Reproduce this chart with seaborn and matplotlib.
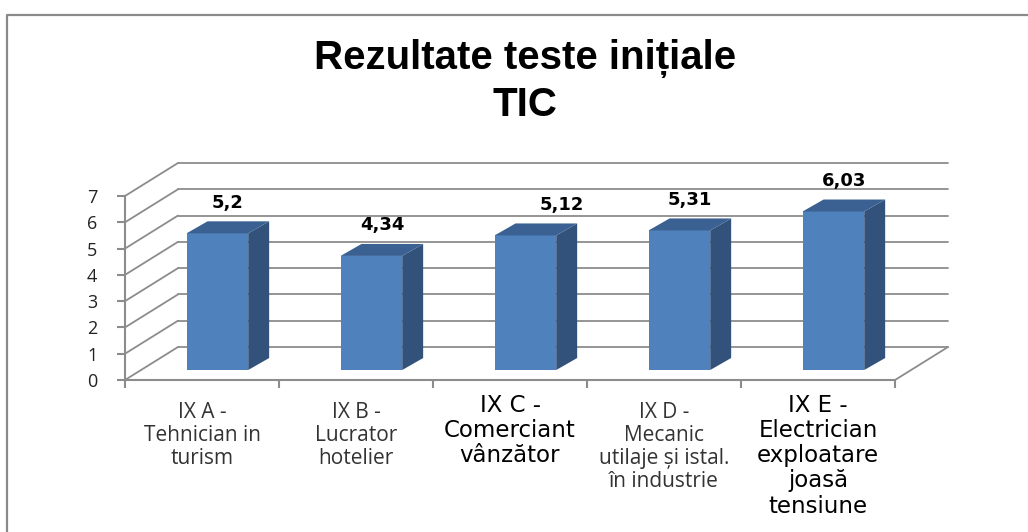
import matplotlib
matplotlib.use("Agg")
import matplotlib.pyplot as plt
from matplotlib.patches import Polygon
from matplotlib.lines import Line2D
import seaborn as sns
import pandas as pd

# data
clase = ["IX A -\nTehnician in\nturism",
         "IX B -\nLucrator\nhotelier",
         "IX C -\nComerciant\nvânzător",
         "IX D -\nMecanic\nutilaje și istal.\nîn industrie",
         "IX E -\nElectrician\nexploatare\njoasă\ntensiune"]
medii = [5.2, 4.34, 5.12, 5.31, 6.03]
etichete = ["5,2", "4,34", "5,12", "5,31", "6,03"]
y_ticks = [0, 1, 2, 3, 4, 5, 6, 7]

# pseudo 3D geometry (data units)
BACK_DX, BACK_DY = 0.344, 1.255   # back wall offset
BAR_DX, BAR_DY = 0.10, 0.38       # bar front face offset
DEPTH_DX, DEPTH_DY = 0.136, 0.456 # bar depth

FRONT = "#4F81BD"
SIDE = "#32527C"
TOP = "#3A6191"
GRID = "#8C8C8C"

sns.set_theme(style="white")
plt.rcParams["font.family"] = ["Open Sans", "DejaVu Sans"]

fig = plt.figure(figsize=(10.28, 5.32), dpi=100)
ax = fig.add_axes([125 / 1028, 1 - 380 / 532, 823 / 1028, 217 / 532])

df = pd.DataFrame({"clasa": clase, "medie": medii})
sns.barplot(data=df, x="clasa", y="medie", color=FRONT, saturation=1,
            width=0.4, linewidth=0, ax=ax, zorder=3)

ax.set_xlim(-0.5, 4.5 + BACK_DX)
ax.set_ylim(0, 7 + BACK_DY)

# back wall grid + left side wall diagonals
for k in y_ticks:
    ax.plot([-0.5 + BACK_DX, 4.5 + BACK_DX], [k + BACK_DY, k + BACK_DY],
            color=GRID, lw=1.3, zorder=1, clip_on=False)
    ax.plot([-0.5, -0.5 + BACK_DX], [k, k + BACK_DY],
            color=GRID, lw=1.3, zorder=1, clip_on=False)
ax.plot([4.5, 4.5 + BACK_DX], [0, BACK_DY], color=GRID, lw=1.3, zorder=1,
        clip_on=False)

# 3D bar faces
for i, p in enumerate(ax.patches):
    p.set_x(p.get_x() + BAR_DX)
    p.set_y(p.get_y() + BAR_DY)
    x0, y0, w, h = p.get_x(), p.get_y(), p.get_width(), p.get_height()
    side = [(x0 + w, y0), (x0 + w + DEPTH_DX, y0 + DEPTH_DY),
            (x0 + w + DEPTH_DX, y0 + h + DEPTH_DY), (x0 + w, y0 + h)]
    top = [(x0, y0 + h), (x0 + DEPTH_DX, y0 + h + DEPTH_DY),
           (x0 + w + DEPTH_DX, y0 + h + DEPTH_DY), (x0 + w, y0 + h)]
    ax.add_patch(Polygon(side, closed=True, facecolor=SIDE, edgecolor="none",
                         zorder=3))
    ax.add_patch(Polygon(top, closed=True, facecolor=TOP, edgecolor="none",
                         zorder=3))
    nudge = 0.17 if i == 2 else 0
    ax.annotate(etichete[i], xy=(x0 + w / 2 + DEPTH_DX / 2 + nudge, y0 + h + DEPTH_DY),
                xytext=(0, 7), textcoords="offset points", ha="center",
                va="bottom", fontsize=13, fontweight="bold",
                family="DejaVu Sans", color="black", annotation_clip=False)

# front axes
for s in ["top", "right"]:
    ax.spines[s].set_visible(False)
ax.spines["left"].set_bounds(0, 7)
ax.spines["bottom"].set_bounds(-0.5, 4.5)
for s in ["left", "bottom"]:
    ax.spines[s].set_color(GRID)
    ax.spines[s].set_linewidth(1.5)
    ax.spines[s].set_zorder(4)

ax.set_yticks(y_ticks)
ax.set_yticklabels([str(t) for t in y_ticks], fontsize=13, color="#222222")
ax.tick_params(axis="y", left=True, length=6, width=1.5, color=GRID, pad=14)
ax.set_xticks(range(len(clase)))
ax.set_xticklabels([""] * len(clase))
ax.set_xticks([i - 0.5 for i in range(len(clase) + 1)], minor=True)
ax.tick_params(axis="x", which="major", bottom=False, length=0)
ax.tick_params(axis="x", which="minor", bottom=True, length=6, width=1.5,
               color=GRID)
ax.set_xlabel("")
ax.set_ylabel("")

# category labels (mixed fonts as in the original)
for i, lab in enumerate(clase):
    if i in (2, 4):
        ax.annotate(lab, xy=(i, 0), xytext=(0, -10), textcoords="offset points",
                    ha="center", va="top", fontsize=16.5,
                    family="DejaVu Sans", color="black", linespacing=1.12,
                    annotation_clip=False)
    else:
        ax.annotate(lab, xy=(i, 0), xytext=(0, -16), textcoords="offset points",
                    ha="center", va="top", fontsize=15, color="#333333",
                    linespacing=1.13, annotation_clip=False)

# title
title_font = dict(ha="center", va="center", fontsize=29, fontweight="bold",
                  family="Liberation Sans", color="black")
fig.text(0.511, 1 - 58 / 532, "Rezultate teste inițiale", **title_font)
fig.text(0.511, 1 - 105 / 532, "TIC", **title_font)

# chart frame (top + left edges visible)
fig.add_artist(Line2D([7 / 1028, 7 / 1028, 1.0], [0.0, 1 - 15 / 532, 1 - 15 / 532],
                      color="#8A8A8A", lw=1.6))

fig.savefig("out.png", dpi=100)
